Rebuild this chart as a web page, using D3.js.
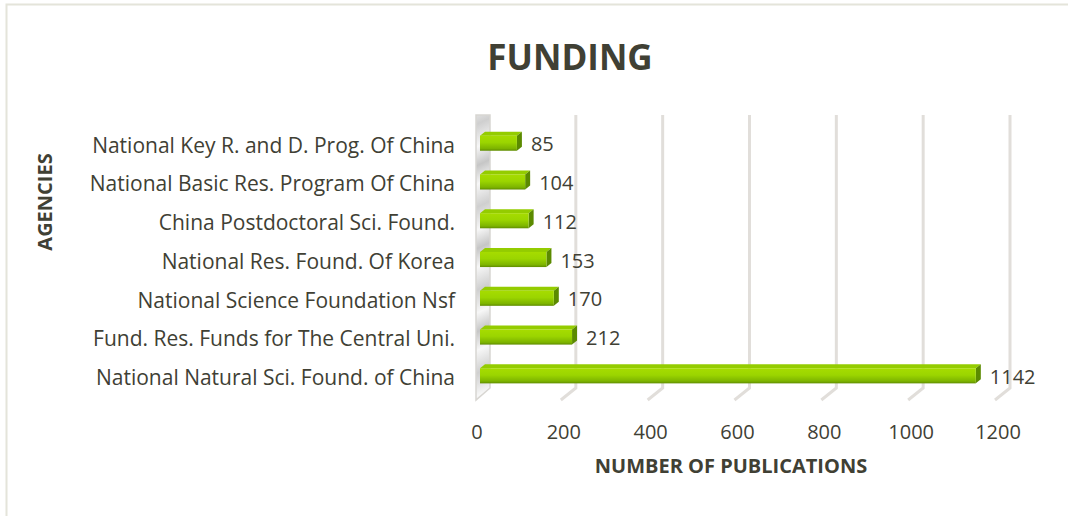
<!DOCTYPE html>
<html lang="en">
<head>
	<meta charset="utf-8">
	<title>Funding</title>
	<script src="https://d3js.org/d3.v7.min.js"></script>
	<style>
	body { margin: 0; background: #fff; }
	svg text { font-family: "Open Sans", sans-serif; fill: #404034; }
	</style>
</head>
<body>
<div id="chart"></div>
<script>
// agencies, top to bottom as drawn
var agencies = [
	"National Key R. and D. Prog. Of China",
	"National Basic Res. Program Of China",
	"China Postdoctoral Sci. Found.",
	"National Res. Found. Of Korea",
	"National Science Foundation Nsf",
	"Fund. Res. Funds for The Central Uni.",
	"National Natural Sci. Found. of China"
];
var publications = [85, 104, 112, 153, 170, 212, 1142];
var xTicks = [0, 200, 400, 600, 800, 1000, 1200];

var width = 1068, height = 516;
var depthX = 9;                   // wall depth (back offset)
var barDX = 5, barDY = 4;         // bar depth
var wallTop = 115, floorBack = 388, floorFront = 400;

var svg = d3.select("#chart").append("svg")
	.attr("width", width)
	.attr("height", height);

var defs = svg.append("defs");

// front face of the bars
var gFront = defs.append("linearGradient").attr("id", "barFront")
	.attr("x1", 0).attr("y1", 0).attr("x2", 0).attr("y2", 1);
gFront.append("stop").attr("offset", "0%").attr("stop-color", "#a6dc00");
gFront.append("stop").attr("offset", "45%").attr("stop-color", "#9bd500");
gFront.append("stop").attr("offset", "85%").attr("stop-color", "#7db400");
gFront.append("stop").attr("offset", "100%").attr("stop-color", "#5f8c00");

// left side wall, shiny grey with diagonal reflections
var gWall = defs.append("linearGradient").attr("id", "wall")
	.attr("gradientUnits", "userSpaceOnUse")
	.attr("x1", 476).attr("y1", 0).attr("x2", 492).attr("y2", 34)
	.attr("spreadMethod", "reflect");
gWall.append("stop").attr("offset", "0%").attr("stop-color", "#c6c6c6");
gWall.append("stop").attr("offset", "45%").attr("stop-color", "#f7f7f7");
gWall.append("stop").attr("offset", "100%").attr("stop-color", "#cfcfcf");

// outer chart border (right/bottom fall outside the picture)
svg.append("rect")
	.attr("x", 6.5).attr("y", 4.5)
	.attr("width", 1080).attr("height", 540)
	.attr("fill", "none")
	.attr("stroke", "#e4e4da")
	.attr("stroke-width", 2);

// scales
var xScale = d3.scaleLinear()
	.domain([0, 1200])
	.range([480, 1001]);

var yScale = d3.scaleBand()
	.domain(agencies)
	.range([124, 395])
	.paddingInner(0.61)
	.paddingOuter(0.3);

// gridlines on back wall and floor
var grid = svg.append("g");
xTicks.filter(function(d){ return d > 0; }).forEach(function(d){
	var xb = xScale(d) + depthX;
	grid.append("path")
		.attr("d", "M" + xb + "," + wallTop + "V" + floorBack + "L" + (xScale(d) - 6) + "," + floorFront)
		.attr("fill", "none")
		.attr("stroke", "#e1deda")
		.attr("stroke-width", 3);
});

// left wall
var x0 = xScale(0);
svg.append("path")
	.attr("d", "M" + (x0 - 4) + "," + wallTop + "L" + (x0 + depthX + 1) + "," + wallTop +
		"L" + (x0 + depthX + 1) + "," + floorBack + "L" + (x0 - 4) + "," + floorFront + "Z")
	.attr("fill", "url(#wall)")
	.attr("stroke", "#d8d6d2")
	.attr("stroke-width", 1.5);

// bars
var bars = svg.selectAll("g.bar")
	.data(publications)
	.enter()
	.append("g")
	.attr("class", "bar");

bars.each(function(d, i){
	var g = d3.select(this);
	var xa = xScale(0), xb = xScale(d);
	var y = yScale(agencies[i]), h = yScale.bandwidth();
	// top face
	g.append("path")
		.attr("d", "M" + xa + "," + y + "L" + xb + "," + y + "L" + (xb + barDX) + "," + (y - barDY) +
			"L" + (xa + barDX) + "," + (y - barDY) + "Z")
		.attr("fill", "#94cc00");
	// right face
	g.append("path")
		.attr("d", "M" + xb + "," + y + "L" + (xb + barDX) + "," + (y - barDY) + "L" + (xb + barDX) + "," + (y + h - barDY) +
			"L" + xb + "," + (y + h) + "Z")
		.attr("fill", "#5b8a00");
	// front face
	g.append("rect")
		.attr("x", xa).attr("y", y)
		.attr("width", xb - xa).attr("height", h)
		.attr("fill", "url(#barFront)");
	// data label
	g.append("text")
		.attr("x", xb + 14)
		.attr("y", y + h / 2 + 1)
		.attr("dy", "0.35em")
		.style("font-size", "20px")
		.text(d);
});

// category labels
svg.append("g").selectAll("text")
	.data(agencies)
	.enter()
	.append("text")
	.attr("x", 455)
	.attr("y", function(d){ return yScale(d) + yScale.bandwidth() / 2 + 2; })
	.attr("dy", "0.35em")
	.attr("text-anchor", "end")
	.style("font-size", "21px")
	.text(function(d){ return d; });

// x tick labels
svg.append("g").selectAll("text")
	.data(xTicks)
	.enter()
	.append("text")
	.attr("x", function(d){ return xScale(d) - 3; })
	.attr("y", 439)
	.attr("text-anchor", "middle")
	.style("font-size", "20px")
	.text(function(d){ return d; });

// titles
svg.append("text")
	.attr("x", 570).attr("y", 70)
	.attr("text-anchor", "middle")
	.style("font-size", "35px").style("font-weight", "bold")
	.text("FUNDING");

svg.append("text")
	.attr("x", 731).attr("y", 473)
	.attr("text-anchor", "middle")
	.style("font-size", "20px").style("font-weight", "bold")
	.text("NUMBER OF PUBLICATIONS");

svg.append("text")
	.attr("transform", "translate(52,202) rotate(-90)")
	.attr("text-anchor", "middle")
	.style("font-size", "20px").style("font-weight", "bold")
	.text("AGENCIES");
</script>
</body>
</html>
